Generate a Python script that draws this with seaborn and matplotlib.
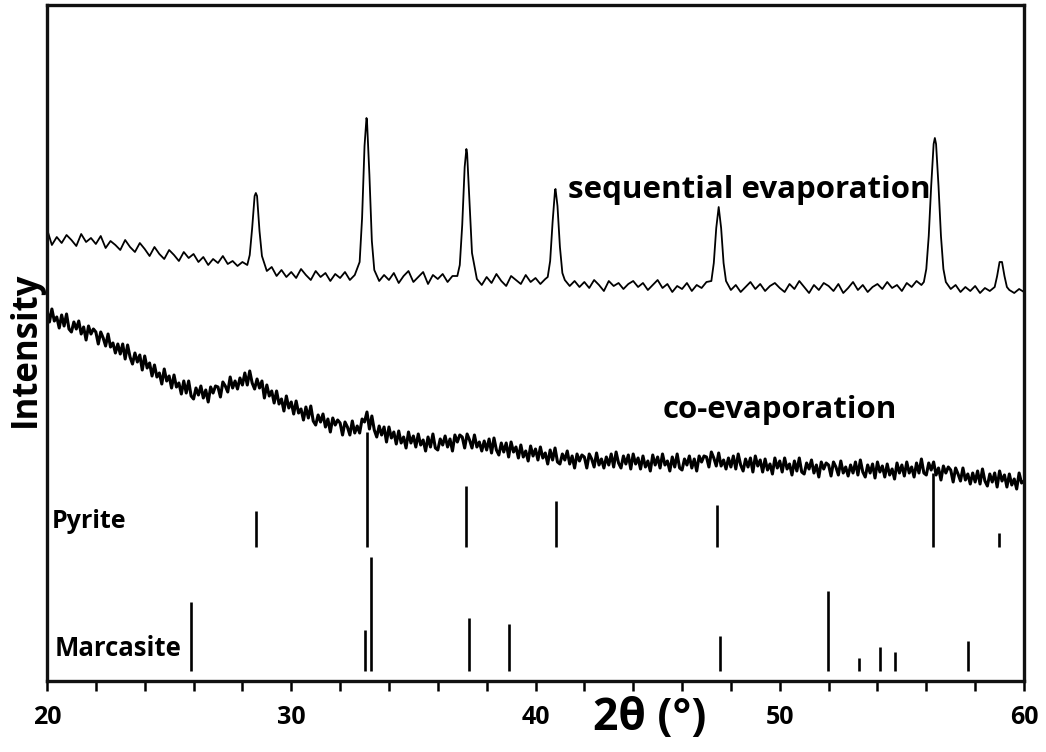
import numpy as np
import pandas as pd
import seaborn as sns
import matplotlib.pyplot as plt
from matplotlib.ticker import MultipleLocator

# --- data (intensity in arbitrary units) ---
# sequential evaporation: 0.2 deg grid from 20 to 60
seq_grid_counts = [
    452, 436, 444, 438, 446, 441, 435, 447, 439, 443,
    437, 445, 433, 440, 436, 431, 441, 434, 429, 438,
    432, 425, 434, 427, 422, 431, 426, 420, 429, 423,
    427, 419, 424, 416, 422, 418, 425, 417, 420, 415,
    419, 416, 453, 485, 425, 410, 414, 405, 411, 404,
    409, 403, 412, 406, 401, 410, 404, 408, 400, 407,
    403, 409, 401, 406, 419, 535, 506, 411, 400, 406,
    401, 408, 398, 405, 410, 399, 404, 409, 397, 406,
    402, 407, 399, 405, 405, 456, 528, 428, 402, 396,
    404, 398, 407, 400, 395, 405, 401, 397, 406, 399,
    403, 397, 402, 420, 491, 434, 401, 395, 400, 394,
    399, 393, 401, 396, 390, 400, 395, 398, 392, 397,
    400, 394, 398, 391, 396, 401, 393, 397, 389, 395,
    392, 398, 390, 396, 393, 399, 400, 453, 453, 400,
    391, 396, 389, 394, 399, 392, 397, 390, 395, 398,
    393, 389, 397, 392, 400, 394, 388, 396, 391, 398,
    395, 390, 397, 388, 393, 399, 391, 396, 389, 394,
    397, 392, 399, 393, 396, 390, 398, 394, 400, 396,
    412, 495, 537, 445, 399, 392, 396, 389, 394, 390,
    395, 388, 393, 390, 394, 419, 405, 391, 388, 392,
    389,
]
# extra points measured across the narrow pyrite peaks
seq_peak_two_theta = [28.3, 28.5, 28.55, 28.7, 32.9, 33.08, 33.1, 33.3,
                      36.9, 37.1, 37.17, 37.3, 40.5, 40.7, 40.82, 40.9, 41.1,
                      47.3, 47.5, 47.7, 55.9, 56.1, 56.3, 56.35, 56.5, 56.7,
                      58.9, 59.1, 59.3]
seq_peak_counts = [426, 485, 488, 450, 463, 563, 561, 440,
                   416, 514, 532, 479, 404, 459, 492, 475, 408,
                   418, 474, 418, 399, 445, 537, 543, 495, 412,
                   405, 419, 394]

# co-evaporation: 0.1 deg grid from 20 to 60
coevap_counts = [
    371, 359, 372, 360, 364, 353, 366, 355, 367, 352,
    349, 359, 352, 360, 347, 354, 341, 355, 347, 352,
    349, 337, 349, 343, 335, 347, 334, 338, 328, 337,
    327, 337, 322, 336, 324, 317, 328, 319, 326, 311,
    325, 313, 318, 305, 316, 304, 308, 297, 312, 300,
    305, 293, 306, 294, 298, 287, 300, 288, 300, 285,
    282, 293, 286, 295, 283, 291, 279, 294, 288, 295,
    294, 284, 299, 295, 289, 304, 293, 300, 292, 303,
    296, 308, 296, 310, 298, 292, 302, 293, 300, 283,
    296, 285, 290, 278, 290, 277, 282, 270, 285, 273,
    279, 267, 280, 268, 272, 261, 274, 263, 275, 260,
    256, 266, 259, 267, 254, 262, 249, 263, 256, 261,
    258, 246, 259, 254, 246, 260, 248, 255, 248, 262,
    259, 269, 252, 265, 251, 244, 255, 246, 254, 239,
    254, 243, 249, 237, 250, 238, 244, 233, 249, 238,
    245, 234, 247, 236, 241, 230, 244, 234, 247, 233,
    231, 242, 236, 245, 234, 242, 230, 246, 239, 246,
    244, 233, 247, 241, 233, 246, 234, 239, 230, 240,
    231, 242, 228, 243, 231, 226, 238, 229, 238, 224,
    239, 229, 234, 223, 236, 224, 230, 220, 235, 225,
    232, 221, 234, 223, 228, 217, 231, 221, 233, 219,
    217, 227, 221, 230, 217, 225, 213, 227, 220, 226,
    224, 213, 227, 222, 214, 228, 216, 222, 213, 224,
    216, 227, 214, 229, 218, 213, 225, 217, 226, 212,
    227, 217, 223, 212, 225, 214, 220, 210, 226, 216,
    224, 213, 227, 216, 220, 210, 224, 214, 227, 213,
    211, 222, 216, 225, 213, 222, 210, 225, 219, 225,
    224, 214, 229, 223, 215, 228, 215, 221, 212, 223,
    214, 225, 212, 227, 216, 210, 222, 214, 223, 209,
    225, 215, 221, 209, 222, 211, 217, 207, 223, 213,
    220, 209, 223, 212, 217, 206, 220, 210, 223, 209,
    207, 218, 212, 221, 208, 216, 204, 219, 212, 218,
    216, 205, 219, 214, 206, 220, 208, 214, 205, 216,
    208, 219, 206, 221, 209, 204, 216, 208, 217, 203,
    219, 209, 215, 204, 217, 206, 212, 202, 218, 208,
    216, 205, 219, 208, 214, 204, 218, 208, 222, 208,
    206, 218, 211, 219, 206, 213, 201, 215, 208, 214,
    211, 199, 213, 207, 200, 213, 201, 207, 197, 208,
    199, 210, 197, 212, 200, 195, 207, 199, 208, 194,
    210, 200, 206, 194, 207, 196, 202, 192, 208, 198,
    200,
]

# reference patterns (stick positions and relative intensities)
pyrite_two_theta = [28.55, 33.1, 37.16, 40.82, 47.42, 56.26, 58.96]
pyrite_intensity = [36, 115, 61, 46, 42, 74, 14]
marcasite_two_theta = [25.9, 33.02, 33.28, 37.27, 38.91, 47.54, 51.98,
                       53.25, 54.1, 54.73, 57.7]
marcasite_intensity = [69, 41, 114, 53, 47, 35, 80, 13, 24, 19, 30]

# --- build tables ---
seq_grid = np.round(np.arange(20, 60.001, 0.2), 2)
seq = pd.DataFrame({
    "two_theta": np.concatenate([seq_grid, seq_peak_two_theta]),
    "counts": np.concatenate([seq_grid_counts, seq_peak_counts]),
}).sort_values("two_theta")
coevap = pd.DataFrame({
    "two_theta": np.round(np.arange(20, 60.001, 0.1), 2),
    "counts": coevap_counts,
})

sns.set_style("white")
plt.rcParams["font.family"] = ["Open Sans", "DejaVu Sans"]
plt.rcParams["font.weight"] = "bold"
plt.rcParams["text.color"] = "black"
plt.rcParams["axes.labelcolor"] = "black"
plt.rcParams["xtick.color"] = "black"

fig = plt.figure(figsize=(10.46, 7.52), dpi=100)
ax = fig.add_axes([47 / 1046, 1 - 681 / 752, 977 / 1046, 676 / 752])

sns.lineplot(data=seq, x="two_theta", y="counts", ax=ax, color="black",
             lw=1.3, sort=False, estimator=None)
sns.lineplot(data=coevap, x="two_theta", y="counts", ax=ax, color="black",
             lw=2.2, sort=False, estimator=None)

pyrite_base, marcasite_base = 134, 10
ax.vlines(pyrite_two_theta, pyrite_base,
          pyrite_base + np.array(pyrite_intensity), color="black", lw=1.9)
ax.vlines(marcasite_two_theta, marcasite_base,
          marcasite_base + np.array(marcasite_intensity), color="black", lw=1.9)

ax.text(41.35, 491, "sequential evaporation", fontsize=22.5, fontweight="bold",
        va="center", ha="left")
ax.text(45.2, 271, "co-evaporation", fontsize=22.5, fontweight="bold",
        va="center", ha="left")
ax.text(20.2, 159, "Pyrite", fontsize=18, fontweight="bold", va="center")
ax.text(20.3, 33, "Marcasite", fontsize=18.5, fontweight="bold", va="center")

ax.set_xlim(20, 60)
ax.set_ylim(0, 676)
ax.set_yticks([])
ax.xaxis.set_major_locator(MultipleLocator(10))
ax.xaxis.set_minor_locator(MultipleLocator(2))
ax.tick_params(axis="x", which="both", direction="out", length=7.5, width=1.8,
               color="black", bottom=True)
ax.tick_params(axis="x", which="major", labelsize=18, pad=10)
for lab in ax.get_xticklabels():
    lab.set_fontweight("bold")

ax.set_xlabel("2θ (°)", fontsize=32, fontweight="bold", va="center")
ax.xaxis.set_label_coords(0.617, -0.055)
ax.set_ylabel("Intensity", fontsize=25, fontweight="bold", va="center")
ax.yaxis.set_label_coords(-0.022, 0.49)

for s in ax.spines.values():
    s.set_color("#111111")
    s.set_linewidth(2.4)

fig.savefig("out.png", dpi=100)
